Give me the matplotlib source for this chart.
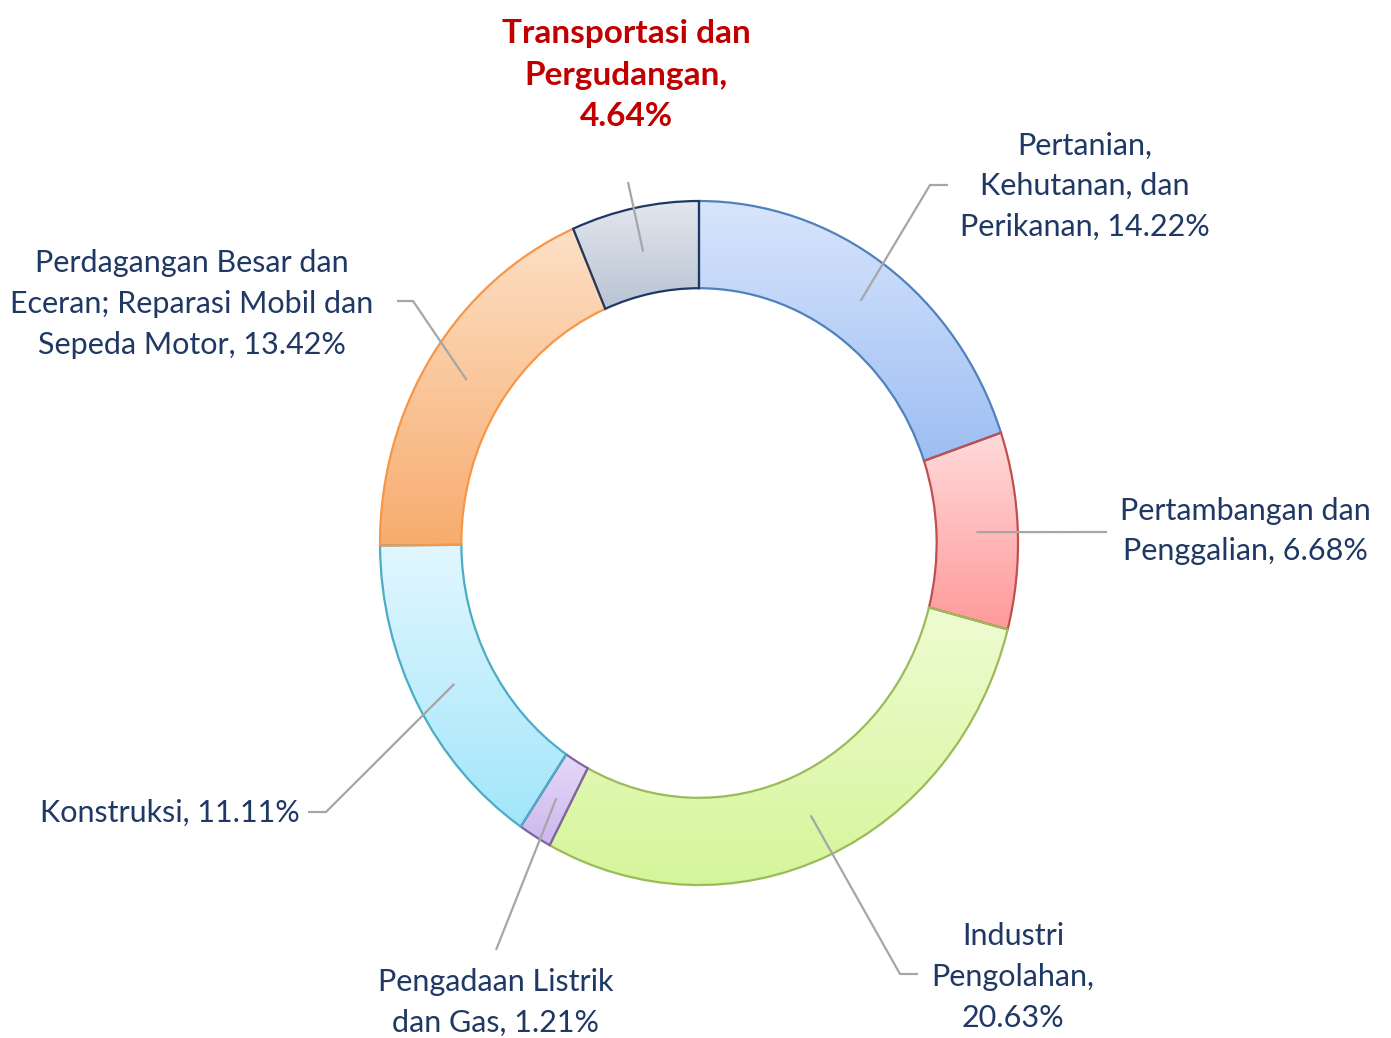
import numpy as np
import matplotlib.pyplot as plt
from matplotlib.colors import LinearSegmentedColormap

sectors = ["Pertanian,\nKehutanan, dan\nPerikanan, 14.22%",
           "Pertambangan dan\nPenggalian, 6.68%",
           "Industri\nPengolahan,\n20.63%",
           "Pengadaan Listrik\ndan Gas, 1.21%",
           "Konstruksi, 11.11%",
           "Perdagangan Besar dan\nEceran; Reparasi Mobil dan\nSepeda Motor, 13.42%",
           "Transportasi dan\nPergudangan,\n4.64%"]
shares = [14.22, 6.68, 20.63, 1.21, 11.11, 13.42, 4.64]

# gradient top / bottom colours and edge colour per slice
top_cols = ["#d8e5fc", "#ffdada", "#eefcd2", "#e6d9f7", "#e2f7ff", "#fde0c6", "#e3e7ee"]
bot_cols = ["#9dbef3", "#ff9a9a", "#d6f59a", "#cdb6ee", "#a2e6fa", "#f7ac6e", "#b9c3d3"]
edge_cols = ["#4f81bd", "#c0504d", "#9bbb59", "#8064a2", "#4bacc6", "#f79646", "#1f3864"]

# label layout in pixels: text centre and leader elbow
text_px = [(1085, 186), (1245, 531), (1013, 977), (496, 1002), (170, 813), (192, 304), (626, 75)]
elbow_px = [(930, 185), None, (900, 974), None, (326, 812), (413, 301), None]
tail_px = [(948, 185), (1107, 532), (918, 974), (496, 950), (308, 812), (397, 301), (628, 182)]

W, H = 1391, 1038
cx, cy, rx, ry = 699, 543, 319, 342


def to_data(p):
    return ((p[0] - cx) / rx, (cy - p[1]) / ry)


fig = plt.figure(figsize=(W / 100, H / 100), dpi=100)
ax = fig.add_axes([0, 0, 1, 1])
wedges, _ = ax.pie(shares, startangle=90, counterclock=False, radius=1,
                   wedgeprops=dict(width=0.255, linewidth=1.6))
ax.set_aspect("auto")
ax.set_xlim(-cx / rx, (W - cx) / rx)
ax.set_ylim(-(H - cy) / ry, cy / ry)
ax.axis("off")

for i, w in enumerate(wedges):
    th = np.radians(np.linspace(w.theta1, w.theta2, 200))
    xs = np.concatenate([np.cos(th) * w.r, np.cos(th) * (w.r - w.width)])
    ys = np.concatenate([np.sin(th) * w.r, np.sin(th) * (w.r - w.width)])
    cmap = LinearSegmentedColormap.from_list("g%d" % i, [bot_cols[i], top_cols[i]])
    grad = np.linspace(0, 1, 256).reshape(-1, 1)
    im = ax.imshow(grad, cmap=cmap, origin="lower", aspect="auto",
                   extent=(xs.min(), xs.max(), ys.min(), ys.max()), zorder=1.1)
    im.set_clip_path(w)
    w.set_facecolor("none")
    w.set_edgecolor(edge_cols[i])
    w.set_zorder(3)

# labels with leader lines
for i, w in enumerate(wedges):
    mid = np.radians((w.theta1 + w.theta2) / 2)
    start = (0.87 * np.cos(mid), 0.87 * np.sin(mid))
    pts = [start]
    if elbow_px[i] is not None:
        pts.append(to_data(elbow_px[i]))
    pts.append(to_data(tail_px[i]))
    pts = np.array(pts)
    ax.plot(pts[:, 0], pts[:, 1], color="#a6a6a6", lw=1.6, zorder=4,
            solid_capstyle="butt")
    tx, ty = to_data(text_px[i])
    if i == 6:
        ax.text(tx, ty, sectors[i], ha="center", va="center", fontsize=24,
                fontweight="bold", color="#c00000", family="Lato", linespacing=1.5)
    else:
        ax.text(tx, ty, sectors[i], ha="center", va="center", fontsize=22,
                color="#1f3864", family="Lato", linespacing=1.55)

fig.savefig("out.png", dpi=100)
